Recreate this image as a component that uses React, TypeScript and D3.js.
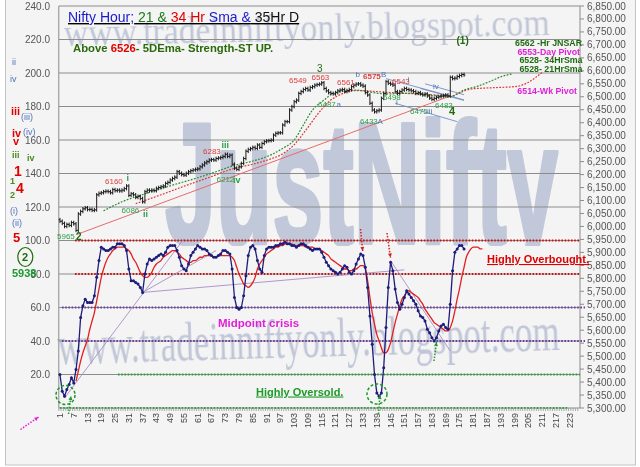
import React from 'react';
import * as d3 from 'd3';

// ---------------- data ----------------
const CATEGORIES = d3.range(1, 228);
const X_TICKS = d3.range(1, 224, 6);
const LEFT_TICKS = d3.range(20, 241, 20);
const RIGHT_TICKS = d3.range(5300, 6851, 50);

// hourly closes, bar 1..177
const PRICE_CLOSE = [
  6020, 6012, 6000, 6008, 6004, 6015, 6010, 5985, 6048, 6058,
  6068, 6072, 6065, 6066, 6062, 6064, 6122, 6128, 6130, 6134,
  6136, 6134, 6130, 6142, 6138, 6140, 6137, 6140, 6146, 6156,
  6120, 6126, 6122, 6112, 6116, 6108, 6095, 6134, 6140, 6138,
  6140, 6138, 6147, 6150, 6153, 6156, 6166, 6170, 6179, 6185,
  6190, 6211, 6205, 6200, 6198, 6205, 6211, 6215, 6218, 6220,
  6222, 6230, 6237, 6245, 6250, 6256, 6258, 6256, 6262, 6264,
  6266, 6270, 6278, 6270, 6275, 6240, 6225, 6220, 6230, 6243,
  6262, 6290, 6297, 6300, 6305, 6301, 6314, 6305, 6320, 6327,
  6330, 6331, 6333, 6352, 6359, 6361, 6361, 6391, 6404, 6404,
  6449, 6462, 6481, 6487, 6513, 6520, 6528, 6532, 6526, 6536,
  6539, 6545, 6547, 6549, 6554, 6532, 6523, 6516, 6513, 6511,
  6516, 6523, 6526, 6528, 6520, 6524, 6528, 6539, 6545, 6549,
  6550, 6545, 6541, 6516, 6507, 6475, 6449, 6442, 6446, 6449,
  6494, 6513, 6558, 6552, 6549, 6545, 6520, 6513, 6520, 6526,
  6532, 6528, 6526, 6523, 6520, 6513, 6516, 6511, 6507, 6511,
  6503, 6495, 6490, 6494, 6498, 6500, 6503, 6505, 6507, 6503,
  6575, 6570, 6572, 6578, 6582, 6586, 6584,
];

// RSI, bar 1..177
const RSI = [
  20, 10, 7, 11, 14, 18, 15, 23, 34, 54,
  61, 65, 63, 63, 63, 67, 78, 88, 96, 95,
  94, 94, 95, 96, 96, 98, 98, 98, 97, 94,
  83, 76, 76, 75, 74, 72, 69, 80, 86, 89,
  88, 89, 90, 91, 92, 91, 93, 96, 97, 97,
  97, 94, 90, 85, 83, 82, 86, 91, 93, 95,
  97, 96, 95, 95, 94, 92, 91, 90, 90, 91,
  92, 94, 94, 93, 92, 83, 66, 60, 59, 60,
  67, 79, 91, 96, 97, 95, 88, 83, 81, 91,
  95, 96, 96, 96, 97, 97, 98, 98, 99, 98,
  98, 97, 97, 96, 97, 98, 98, 97, 96, 95,
  94, 95, 95, 95, 93, 90, 87, 85, 83, 82,
  81, 80, 81, 83, 85, 84, 81, 80, 82, 86,
  89, 92, 91, 84, 72, 55, 38, 20, 9, 7,
  9, 24, 48, 72, 87, 82, 71, 63, 59, 62,
  66, 70, 68, 66, 64, 62, 58, 55, 54, 52,
  47, 45, 42, 40, 42, 46, 49, 50, 48, 47,
  62, 82, 93, 95, 97, 97, 95,
];

// RSI average, bar 8..185
const RSI_AVG_START = 8;
const RSI_AVG = [
  16, 22, 28, 33, 37, 41, 47, 52, 57, 64,
  71, 78, 83, 87, 90, 92, 94, 95, 96, 96,
  96, 96, 95, 94, 92, 89, 87, 84, 81, 79,
  78, 78, 79, 81, 84, 86, 87, 88, 90, 91,
  92, 93, 94, 94, 93, 92, 90, 89, 88, 87,
  87, 88, 88, 89, 90, 90, 91, 91, 91, 91,
  90, 90, 91, 91, 91, 91, 91, 91, 90, 88,
  84, 80, 77, 74, 73, 72, 73, 75, 78, 83,
  86, 88, 90, 92, 93, 94, 95, 96, 96, 97,
  97, 98, 98, 98, 98, 97, 97, 97, 97, 97,
  96, 96, 96, 96, 95, 95, 95, 94, 93, 92,
  91, 89, 88, 87, 86, 85, 84, 83, 83, 82,
  82, 83, 83, 84, 85, 85, 83, 76, 66, 57,
  50, 44, 40, 36, 33, 33, 35, 39, 45, 51,
  56, 61, 65, 67, 69, 70, 69, 68, 67, 66,
  64, 62, 59, 57, 55, 53, 51, 50, 49, 48,
  47, 46, 46, 48, 52, 58, 65, 71, 78, 84,
  90, 93, 95, 96, 96, 96, 95, 95,
];

// 21 Hr SMA (green dashed) readings
const SMA21_IDX = [20, 28, 36, 42, 51, 60, 69, 76, 84, 91, 98, 103, 107, 111, 116, 120, 126, 130, 135, 140, 145, 149, 155, 161, 166, 171, 177, 183, 188, 194, 198];
const SMA21_VAL = [6060, 6095, 6120, 6137, 6162, 6185, 6211, 6233, 6250, 6269, 6301, 6333, 6391, 6449, 6487, 6513, 6523, 6526, 6520, 6513, 6511, 6513, 6513, 6507, 6503, 6500, 6526, 6541, 6558, 6580, 6588];

// 34 Hr SMA (red dashed) readings
const SMA34_IDX = [34, 45, 55, 65, 77, 85, 92, 98, 103, 108, 113, 118, 124, 130, 136, 142, 150, 158, 166, 171, 175, 180, 190, 200, 205, 211];
const SMA34_VAL = [6088, 6122, 6155, 6186, 6224, 6240, 6258, 6280, 6315, 6370, 6430, 6480, 6512, 6524, 6522, 6518, 6514, 6510, 6506, 6502, 6515, 6530, 6535, 6540, 6556, 6594];

// trend lines on price: [i0, p0, i1, p1]
const PRICE_TREND = [[8, 5968, 171, 6503]];
const PRICE_CHANNEL = [
  [143, 6570, 177, 6488],
  [147, 6475, 174, 6404],
  [160, 6550, 177, 6508],
  [158, 6532, 177, 6486],
];
// trend lines on RSI: [i0, v0, i1, v1]
const RSI_TREND = [
  [3, 6, 55, 101],
  [37, 69, 69, 94],
  [37, 69, 151, 82.5],
  [145, 88, 171, 34],
];

const FONT = "'Liberation Sans', Arial, sans-serif";
const SERIF = "'Liberation Serif', 'Times New Roman', serif";

const RED = '#e03c3c';
const GRN = '#2f9e4a';
const BLU = '#4f74bb';
const DGR = '#1f6b12';
const MAG = '#e020d8';

type Lbl = { t: string; x: number; y: number; c: string; s?: number; b?: boolean };

const PRICE_LABELS: Lbl[] = [
  { t: '5965', x: 57, y: 239, c: GRN },
  { t: '2', x: 76, y: 240, c: DGR, s: 10, b: true },
  { t: '6160', x: 105, y: 184, c: RED },
  { t: 'i', x: 126.5, y: 181, c: GRN, s: 9, b: true },
  { t: '6086', x: 121.5, y: 213, c: GRN },
  { t: 'ii', x: 143, y: 217, c: GRN, s: 9, b: true },
  { t: '6283', x: 203, y: 154, c: RED },
  { t: 'iii', x: 221.5, y: 148, c: GRN, s: 9, b: true },
  { t: '6212', x: 216.5, y: 182, c: GRN },
  { t: 'iv', x: 233, y: 183, c: GRN, s: 9, b: true },
  { t: '6549', x: 289, y: 83, c: RED },
  { t: '3', x: 317, y: 72, c: DGR, s: 10 },
  { t: '6563', x: 311.5, y: 80, c: RED },
  { t: '6487', x: 318, y: 107, c: GRN },
  { t: 'a', x: 336.5, y: 107, c: BLU },
  { t: '6561', x: 337, y: 85, c: RED },
  { t: 'b', x: 355.5, y: 77, c: BLU },
  { t: '6575', x: 363, y: 79, c: RED, b: true },
  { t: 'B', x: 381, y: 77, c: BLU },
  { t: '6543', x: 392, y: 83.5, c: RED },
  { t: 'i', x: 407.5, y: 82, c: BLU },
  { t: '6433', x: 360, y: 123.5, c: GRN },
  { t: 'A', x: 377.5, y: 124, c: BLU },
  { t: '6498', x: 383, y: 100, c: GRN },
  { t: 'i', x: 396, y: 105, c: BLU },
  { t: '6475', x: 410, y: 113.5, c: GRN },
  { t: 'iii', x: 427, y: 113.5, c: BLU },
  { t: 'iv', x: 433, y: 89, c: BLU },
  { t: '6483', x: 435, y: 107.5, c: GRN },
  { t: '4', x: 449, y: 115, c: DGR, s: 11, b: true },
  { t: '(1)', x: 456.5, y: 44, c: DGR, s: 10, b: true },
];

const SIDE_LABELS: Lbl[] = [
  { t: 'ii', x: 12, y: 65, c: BLU, s: 9 },
  { t: 'iv', x: 10, y: 82, c: BLU, s: 9 },
  { t: 'iii', x: 11, y: 115, c: '#e00000', s: 11, b: true },
  { t: '(iii)', x: 21, y: 120, c: BLU, s: 9 },
  { t: 'iv', x: 12, y: 137, c: '#e00000', s: 11, b: true },
  { t: '(iv)', x: 23, y: 135, c: BLU, s: 9 },
  { t: 'v', x: 13, y: 145, c: '#e00000', s: 11, b: true },
  { t: 'iii', x: 12, y: 158, c: '#4a8a20', s: 9, b: true },
  { t: 'iv', x: 27, y: 161, c: '#4a8a20', s: 9, b: true },
  { t: '1', x: 14, y: 176, c: '#e00000', s: 14, b: true },
  { t: '1', x: 10, y: 184, c: '#4a8a20', s: 9, b: true },
  { t: '4', x: 16, y: 193, c: '#e00000', s: 14, b: true },
  { t: '2', x: 10, y: 198, c: '#4a8a20', s: 9, b: true },
  { t: '(i)', x: 10, y: 214, c: BLU, s: 9 },
  { t: '(ii)', x: 12, y: 226, c: BLU, s: 9 },
  { t: '5', x: 13, y: 242, c: '#e00000', s: 13, b: true },
  { t: '2', x: 22, y: 261, c: DGR, s: 11, b: true },
  { t: '5938', x: 12, y: 277, c: '#1c9a30', s: 11, b: true },
];

const RIGHT_NOTES: Lbl[] = [
  { t: '6562 -Hr JNSAR', x: 582, y: 46, c: DGR },
  { t: '6553-Day Pivot', x: 580, y: 54.5, c: MAG },
  { t: '6528- 34HrSma', x: 582.5, y: 63.3, c: DGR },
  { t: '6528- 21HrSma', x: 582.5, y: 71.7, c: DGR },
  { t: '6514-Wk Pivot', x: 577, y: 94, c: MAG },
];

export default function App() {
  const W = 640, H = 467;
  const L = 58.8, R = 580, T = 6, B = 408;

  const xb = d3.scaleBand<number>().domain(CATEGORIES).range([L, R]);
  const xc = (i: number) => (xb(i) ?? 0) + xb.bandwidth() / 2;
  const yL = d3.scaleLinear().domain([0, 240]).range([B, T]);
  const yR = d3.scaleLinear().domain([5300, 6850]).range([B, T]);

  const rsiPts: [number, number][] = RSI.map((v, k) => [k + 1, v]);
  const rsiAvgPts: [number, number][] = RSI_AVG.map((v, k) => [k + RSI_AVG_START, v]);
  const lineL = d3.line<[number, number]>().x(d => xc(d[0])).y(d => yL(d[1]));
  const lineRm = d3.line<[number, number]>().x(d => xc(d[0])).y(d => yR(d[1])).curve(d3.curveMonotoneX);
  const lineLm = d3.line<[number, number]>().x(d => xc(d[0])).y(d => yL(d[1])).curve(d3.curveMonotoneX);

  const sma21: [number, number][] = SMA21_IDX.map((i, k) => [i, SMA21_VAL[k]]);
  const sma34: [number, number][] = SMA34_IDX.map((i, k) => [i, SMA34_VAL[k]]);

  const pad = 7;
  const bars = PRICE_CLOSE.map((c, k) => {
    const o = k === 0 ? c + 6 : PRICE_CLOSE[k - 1];
    const hi = Math.max(o, c) + pad, lo = Math.min(o, c) - pad;
    return { i: k + 1, o, c, hi, lo };
  });

  const hline = (v: number, x0: number, x1: number, color: string, key: string) => (
    <line key={key} x1={x0} x2={x1} y1={yL(v)} y2={yL(v)} stroke={color} strokeWidth={2} strokeDasharray="1.6 1.6" />
  );

  const arrowHead = (x0: number, y0: number, x1: number, y1: number, color: string, key: string) => {
    const a = Math.atan2(y1 - y0, x1 - x0);
    const s = 4.5;
    const p1 = [x1 - s * Math.cos(a - 0.45), y1 - s * Math.sin(a - 0.45)];
    const p2 = [x1 - s * Math.cos(a + 0.45), y1 - s * Math.sin(a + 0.45)];
    return (
      <g key={key}>
        <line x1={x0} y1={y0} x2={x1} y2={y1} stroke={color} strokeWidth={1.5} strokeDasharray="1.5 1.5" />
        <path d={`M${x1},${y1}L${p1[0]},${p1[1]}L${p2[0]},${p2[1]}Z`} fill={color} />
      </g>
    );
  };

  const fmtR = d3.format(',.2f');

  return (
    <svg width={W} height={H} style={{ position: 'absolute', left: 0, top: 0, fontFamily: FONT }}>
      <defs>
        <clipPath id="wmclip"><rect x={0} y={0} width={W} height={246} /></clipPath>
      </defs>
      <rect x={0} y={0} width={W} height={H} fill="#ffffff" />
      <rect x={5.5} y={-2} width={630} height={467} fill="#f4f4f4" stroke="#c4c4c4" />

      {/* watermarks */}
      <g fill="#b3bbd0" opacity={0.8}>
        <text x={64} y={46} fontFamily={SERIF} fontSize={38} textLength={486} lengthAdjust="spacingAndGlyphs"
          transform="rotate(-1.3 64 46)">www.tradeinniftyonly.blogspot.com</text>
        <g clipPath="url(#wmclip)" opacity={0.85}>
          <text x={165} y={243} fontFamily={FONT} fontWeight="bold" fontSize={172} textLength={393} lengthAdjust="spacingAndGlyphs"
            fill="#a9b3cc" stroke="#a9b3cc" strokeWidth={4} strokeLinejoin="round">JustNifty</text>
        </g>
        <text x={58} y={364} fontFamily={SERIF} fontSize={55} textLength={502} lengthAdjust="spacingAndGlyphs"
          transform="rotate(-1.6 58 364)">www.tradeinniftyonly.blogspot.com</text>
      </g>

      {/* gridlines */}
      {LEFT_TICKS.map(v => (
        <line key={'g' + v} x1={L} x2={R} y1={yL(v)} y2={yL(v)} stroke="#8c8c8c" strokeWidth={1} />
      ))}
      <line x1={L} x2={L} y1={T} y2={B} stroke="#8c8c8c" />
      <line x1={R} x2={R} y1={T} y2={B} stroke="#8c8c8c" />
      <line x1={L} x2={R} y1={B} y2={B} stroke="#8c8c8c" />

      {/* level lines on RSI */}
      {hline(100, 75, 580, '#cc1111', 'h100')}
      {hline(80, 75, 580, '#cc1111', 'h80')}
      {hline(60, 62, 585, '#6b3e9e', 'h60')}
      {hline(40, 62, 585, '#6b3e9e', 'h40')}
      {hline(20, 118, 580, '#2e9e3a', 'h20')}
      {hline(0, 60, 568, '#2e9e3a', 'h0')}

      {/* x ticks */}
      {CATEGORIES.map(i => (
        <line key={'xt' + i} x1={xb(i)} x2={xb(i)} y1={B} y2={B + 3} stroke="#9a9a9a" strokeWidth={0.8} />
      ))}
      {X_TICKS.map(t => (
        <text key={'xl' + t} transform={`translate(${xc(t) + 3},${B + 5}) rotate(-90)`} textAnchor="end"
          fontSize={9} fill="#444">{t}</text>
      ))}

      {/* left axis labels */}
      {LEFT_TICKS.map(v => (
        <text key={'ll' + v} x={50} y={yL(v) + 3.5} textAnchor="end" fontSize={10} fill="#555">{v.toFixed(1)}</text>
      ))}
      {/* right axis */}
      {RIGHT_TICKS.map(v => (
        <g key={'rl' + v}>
          <line x1={R} x2={R + 4} y1={yR(v)} y2={yR(v)} stroke="#8c8c8c" />
          <text x={587} y={yR(v) + 3.5} fontSize={10} fill="#555">{fmtR(v)}</text>
        </g>
      ))}

      {/* price trend lines */}
      {PRICE_TREND.map((d, k) => (
        <line key={'pt' + k} x1={xc(d[0])} y1={yR(d[1])} x2={xc(d[2])} y2={yR(d[3])} stroke="#e86a6a" strokeWidth={1} />
      ))}
      {PRICE_CHANNEL.map((d, k) => (
        <line key={'pc' + k} x1={xc(d[0])} y1={yR(d[1])} x2={xc(d[2])} y2={yR(d[3])} stroke="#6f8fc6" strokeWidth={0.9} />
      ))}
      <path d={lineRm(sma34) ?? ''} fill="none" stroke="#e03535" strokeWidth={1.2} strokeDasharray="1.8 1.4" />
      <path d={lineRm(sma21) ?? ''} fill="none" stroke="#2c8a2c" strokeWidth={1.2} strokeDasharray="1.8 1.4" />

      {/* price bars */}
      {bars.map(b => {
        const cx = xc(b.i);
        return (
          <g key={'b' + b.i} stroke="#1a1a1a" strokeWidth={1}>
            <line x1={cx} x2={cx} y1={yR(b.hi)} y2={yR(b.lo)} />
            <line x1={cx - 1.3} x2={cx} y1={yR(b.o)} y2={yR(b.o)} />
            <line x1={cx} x2={cx + 1.3} y1={yR(b.c)} y2={yR(b.c)} />
          </g>
        );
      })}

      {/* RSI trend lines */}
      {RSI_TREND.map((d, k) => (
        <line key={'rt' + k} x1={xc(d[0])} y1={yL(d[1])} x2={xc(d[2])} y2={yL(d[3])} stroke="#a98cc6" strokeWidth={0.9} />
      ))}
      {/* RSI average */}
      <path d={lineLm(rsiAvgPts) ?? ''} fill="none" stroke="#e21f1f" strokeWidth={1.3} />
      {/* RSI */}
      <path d={lineL(rsiPts) ?? ''} fill="none" stroke="#1e1e7a" strokeWidth={1.3} />
      {rsiPts.map(d => (
        <circle key={'rp' + d[0]} cx={xc(d[0])} cy={yL(d[1])} r={1.5} fill="#1e1e7a" />
      ))}

      {/* circles & arrows */}
      <circle cx={65.5} cy={395} r={9.5} fill="none" stroke="#1f9a2a" strokeWidth={1.5} strokeDasharray="3 2" />
      <circle cx={377} cy={394} r={10} fill="none" stroke="#1f9a2a" strokeWidth={1.5} strokeDasharray="3 2" />
      {arrowHead(68.5, 414, 71, 396, '#1f9a2a', 'a1')}
      {arrowHead(378.5, 414, 380, 395, '#1f9a2a', 'a2')}
      {arrowHead(434, 361, 436.5, 342, '#1f9a2a', 'a3')}
      {arrowHead(360.5, 229, 362.7, 251, '#d42020', 'a4')}
      {arrowHead(387, 233, 390.5, 257.5, '#d42020', 'a5')}
      {arrowHead(20.5, 429.5, 38.5, 417, MAG, 'a6')}

      {/* text notes */}
      <text x={218} y={327} fontSize={11.5} fontWeight="bold" fill={MAG}>Midpoint crisis</text>
      <text x={256} y={395.5} fontSize={11} fontWeight="bold" fill="#1f9a2a" textDecoration="underline">Highly Oversold.</text>
      <text x={487} y={263} fontSize={11} fontWeight="bold" fill="#dd0000" textDecoration="underline">Highly Overbought.</text>

      <text x={68} y={22} fontSize={14} textDecoration="underline">
        <tspan fill="#1a1acc">Nifty Hour;</tspan>
        <tspan fill="#1a7a1a"> 21 &amp;</tspan>
        <tspan fill="#e00000"> 34 Hr</tspan>
        <tspan fill="#1a1acc"> Sma &amp;</tspan>
        <tspan fill="#111"> 35Hr D</tspan>
      </text>
      <text x={73} y={51.5} fontSize={11.3} fontWeight="bold" fill="#2b6a0a">
        Above <tspan fill="#e00000">6526</tspan>- 5DEma- Strength-ST UP.
      </text>

      {RIGHT_NOTES.map((n, k) => (
        <text key={'rn' + k} x={n.x} y={n.y} textAnchor="end" fontSize={8.8} fontWeight="bold" fill={n.c}>{n.t}</text>
      ))}
      {PRICE_LABELS.map((n, k) => (
        <text key={'pl' + k} x={n.x} y={n.y} fontSize={n.s ?? 8} fontWeight={n.b ? 'bold' : 'normal'} fill={n.c}>{n.t}</text>
      ))}
      {SIDE_LABELS.map((n, k) => (
        <text key={'sl' + k} x={n.x} y={n.y} fontSize={n.s ?? 9} fontWeight={n.b ? 'bold' : 'normal'} fill={n.c}>{n.t}</text>
      ))}
      <ellipse cx={25.3} cy={257} rx={7.5} ry={9.5} fill="none" stroke="#1f6b12" strokeWidth={1.2} />
    </svg>
  );
}
